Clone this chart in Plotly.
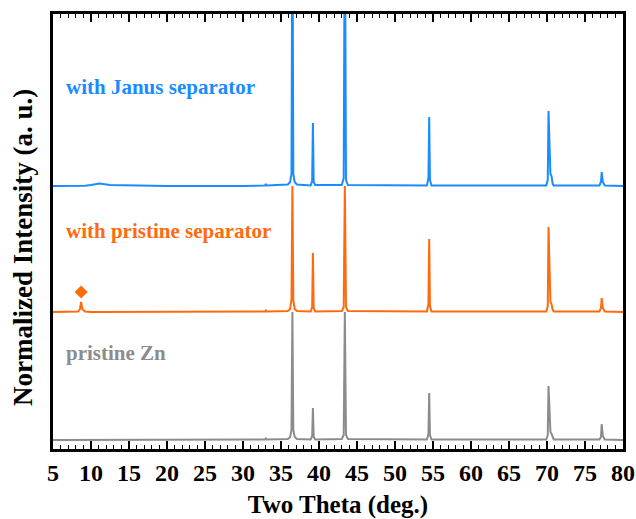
import plotly.graph_objects as go

# Two-theta sample points (deg.)
two_theta = [5, 8.3, 8.55, 8.7, 8.85, 9.2, 10.0, 11.1, 12.5, 20, 30, 32.9, 33.0, 33.1,
             35.9, 36.2, 36.38, 36.5, 36.62, 36.8, 37.1, 38.9, 39.1, 39.2, 39.3, 39.5,
             43.0, 43.25, 43.4, 43.55, 43.8, 54.2, 54.4, 54.5, 54.6, 54.8,
             69.9, 70.1, 70.2, 70.3, 70.45, 70.6, 70.75, 70.9, 76.9, 77.1, 77.2, 77.35, 77.6, 80]

# Relative intensities (above each curve's baseline)
zn_pristine = [0, 0, 0, 0, 0, 0, 0, 0, 0, 0, 0.5, 0.5, 1.5, 0.5,
               1, 3, 10, 128, 10, 3, 1, 0.5, 4, 32, 3, 0.5,
               1, 5, 128, 5, 1, 0.5, 6, 47, 5, 0.5,
               0.5, 5, 54, 28, 8, 6, 2, 0.5, 0.5, 3, 16, 4, 0.5, 0]
pristine_sep = [0, 0.5, 3, 10, 3, 0.5, 0, 0, 0, 0, 0.5, 0.5, 1.5, 0.5,
                1, 3, 12, 126, 12, 3, 1, 0.5, 5, 59, 4, 0.5,
                1, 5, 126, 5, 1, 0.5, 8, 73, 6, 0.5,
                0.5, 6, 85, 42, 10, 8, 2, 0.5, 0.5, 4, 14, 4, 0.5, 0]
janus_sep = [0, 0, 0, 0, 0, 0.3, 1, 2.5, 1, 0, 0, 0.5, 2, 0.5,
             1.5, 4, 12, 300, 12, 4, 1.5, 0.5, 5, 63, 4, 1,
             1, 8, 300, 6, 1, 0.5, 8, 69, 6, 0.5,
             0.5, 6, 75, 38, 12, 10, 2, 0.5, 0.5, 4, 14, 4, 0.5, 0]

offsets = {"zn": 9, "pristine": 137, "janus": 263}
labels = ["pristine Zn", "with pristine separator", "with Janus separator"]
colors = ["#8C8C8C", "#FF6A0E", "#1A8CFF"]

marker_x = [8.7]
marker_y = [157]

x_ticks = list(range(5, 81, 5))

fig = go.Figure()
series = [(zn_pristine, offsets["zn"]), (pristine_sep, offsets["pristine"]), (janus_sep, offsets["janus"])]
for (vals, off), name, col in zip(series, labels, colors):
    fig.add_trace(go.Scatter(x=two_theta, y=[v + off for v in vals], mode="lines",
                             line=dict(color=col, width=2), name=name, showlegend=False))

fig.add_trace(go.Scatter(x=marker_x, y=marker_y, mode="markers",
                         marker=dict(symbol="diamond", size=10, color=colors[1]),
                         showlegend=False))

font_family = "Liberation Serif, Times New Roman, serif"
ann_y = [96, 218, 362]
for name, col, yy in zip(labels, colors, ann_y):
    fig.add_annotation(x=6.4, y=yy, xref="x", yref="y", text=name, showarrow=False,
                       xanchor="left", yanchor="middle",
                       font=dict(family=font_family, size=21, color=col, weight="bold"))

# y-axis title as a rotated annotation (positioned like the reference)
fig.add_annotation(x=-0.0526, y=0.462, xref="paper", yref="paper",
                   text="Normalized Intensity (a. u.)", showarrow=False, textangle=-90,
                   xanchor="center", yanchor="middle",
                   font=dict(family=font_family, size=27, weight="bold", color="black"))

fig.update_layout(
    width=636, height=519,
    margin=dict(l=53, r=13, t=14, b=70),
    plot_bgcolor="white", paper_bgcolor="white",
    font=dict(family=font_family, color="black"),
)
fig.update_xaxes(
    range=[5, 80], tickvals=x_ticks, ticks="inside", ticklen=8, tickwidth=1.5,
    tickcolor="black", showline=True, linecolor="black", linewidth=2.5, mirror="ticks",
    showgrid=False, zeroline=False, automargin=False,
    minor=dict(dtick=1, ticks="inside", ticklen=4, tickwidth=1.2, tickcolor="black", showgrid=False),
    tickfont=dict(family=font_family, size=24, weight="bold", color="black"),
    title=dict(text="Two Theta (deg.)", standoff=16,
               font=dict(family=font_family, size=25, weight="bold", color="black")),
)
fig.update_yaxes(
    range=[0, 435], showticklabels=False, ticks="", showline=True, linecolor="black",
    linewidth=2.5, mirror=True, showgrid=False, zeroline=False, automargin=False,
)

fig.write_html("out.html")
